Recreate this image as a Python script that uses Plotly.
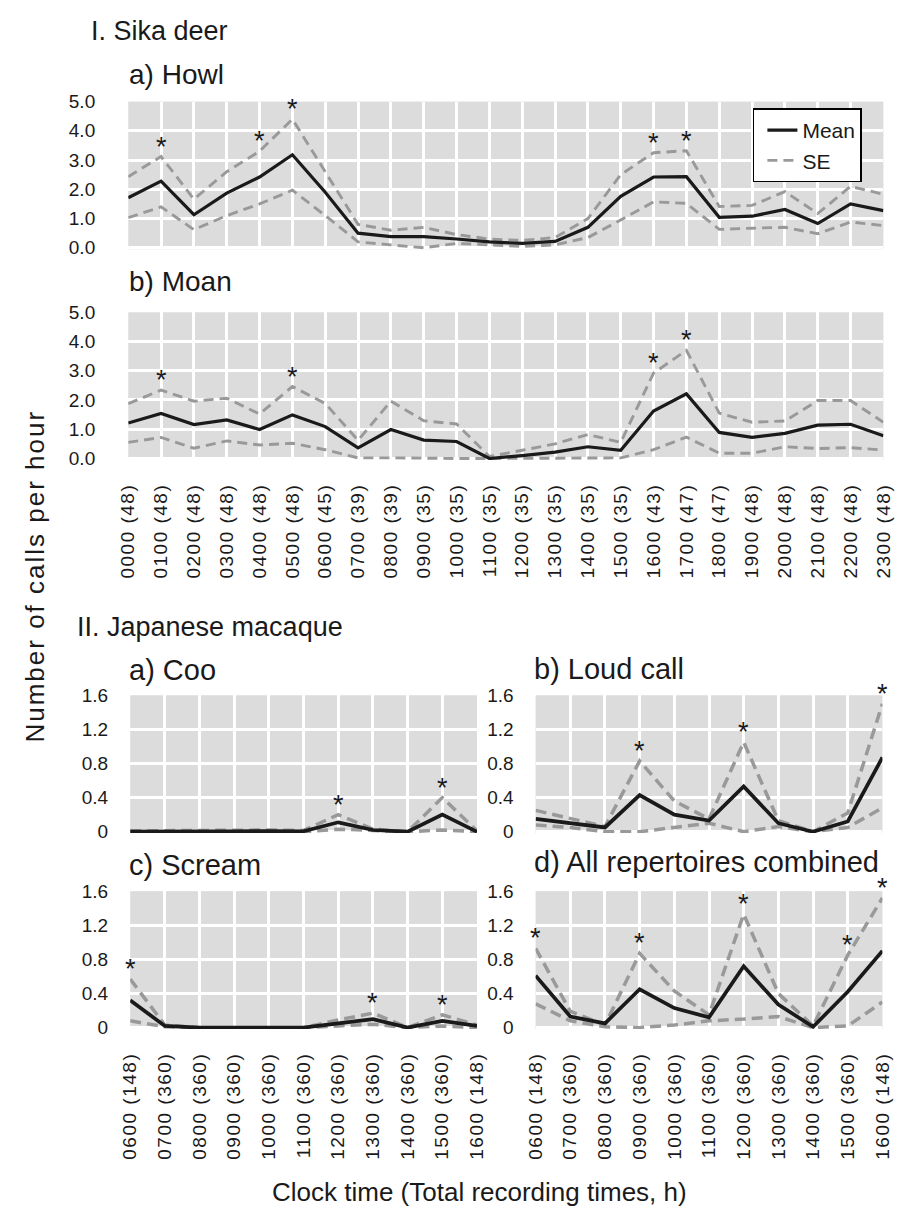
import plotly.graph_objects as go

W, H = 910, 1229

# ---------------- data ----------------
deer_hours = ["0000 (48)", "0100 (48)", "0200 (48)", "0300 (48)", "0400 (48)", "0500 (48)",
              "0600 (45)", "0700 (39)", "0800 (39)", "0900 (35)", "1000 (35)", "1100 (35)",
              "1200 (35)", "1300 (35)", "1400 (35)", "1500 (35)", "1600 (43)", "1700 (47)",
              "1800 (47)", "1900 (48)", "2000 (48)", "2100 (48)", "2200 (48)", "2300 (48)"]

howl_mean = [1.71, 2.28, 1.13, 1.87, 2.42, 3.18, 1.9, 0.5, 0.38, 0.38, 0.3, 0.2,
             0.15, 0.22, 0.7, 1.76, 2.42, 2.43, 1.04, 1.08, 1.31, 0.83, 1.5, 1.27]
howl_upper = [2.43, 3.12, 1.66, 2.6, 3.3, 4.4, 2.6, 0.8, 0.6, 0.7, 0.45, 0.3,
              0.25, 0.35, 1.0, 2.5, 3.25, 3.32, 1.41, 1.45, 1.92, 1.17, 2.1, 1.83]
howl_lower = [1.03, 1.4, 0.62, 1.1, 1.5, 1.97, 1.1, 0.2, 0.1, 0.0, 0.15, 0.1,
              0.05, 0.1, 0.35, 0.95, 1.57, 1.52, 0.63, 0.67, 0.7, 0.48, 0.88, 0.76]
howl_star = [1, 4, 5, 16, 17]

moan_mean = [1.21, 1.54, 1.16, 1.32, 0.99, 1.49, 1.09, 0.36, 0.99, 0.63, 0.58, 0.0,
             0.1, 0.22, 0.4, 0.28, 1.62, 2.21, 0.89, 0.72, 0.86, 1.14, 1.17, 0.78]
moan_upper = [1.87, 2.34, 1.96, 2.06, 1.52, 2.46, 1.88, 0.62, 1.96, 1.29, 1.18, 0.07,
              0.28, 0.5, 0.82, 0.55, 2.92, 3.7, 1.55, 1.24, 1.28, 1.98, 1.98, 1.24]
moan_lower = [0.55, 0.72, 0.35, 0.6, 0.46, 0.52, 0.3, 0.02, 0.02, 0.0, 0.0, 0.0,
              0.0, 0.0, 0.0, 0.02, 0.3, 0.73, 0.18, 0.18, 0.4, 0.34, 0.37, 0.29]
moan_star = [1, 5, 16, 17]

mac_hours = ["0600 (148)", "0700 (360)", "0800 (360)", "0900 (360)", "1000 (360)", "1100 (360)",
             "1200 (360)", "1300 (360)", "1400 (360)", "1500 (360)", "1600 (148)"]

coo_mean = [0.0, 0.005, 0.005, 0.005, 0.008, 0.005, 0.11, 0.02, 0.0, 0.2, 0.0]
coo_upper = [0.01, 0.015, 0.015, 0.015, 0.02, 0.015, 0.2, 0.03, 0.0, 0.4, 0.01]
coo_lower = [0.0, 0.0, 0.0, 0.0, 0.0, 0.0, 0.03, 0.01, 0.0, 0.02, 0.0]
coo_star = [6, 9]

loud_mean = [0.15, 0.1, 0.05, 0.43, 0.2, 0.13, 0.53, 0.1, 0.0, 0.12, 0.87]
loud_upper = [0.25, 0.15, 0.06, 0.83, 0.36, 0.15, 1.05, 0.13, 0.0, 0.22, 1.5]
loud_lower = [0.08, 0.05, 0.0, 0.0, 0.05, 0.1, 0.0, 0.06, 0.0, 0.05, 0.28]
loud_star = [3, 6, 10]

scream_mean = [0.32, 0.02, 0.0, 0.0, 0.0, 0.0, 0.05, 0.1, 0.0, 0.08, 0.02]
scream_upper = [0.57, 0.03, 0.0, 0.0, 0.0, 0.0, 0.09, 0.17, 0.0, 0.15, 0.03]
scream_lower = [0.08, 0.01, 0.0, 0.0, 0.0, 0.0, 0.02, 0.04, 0.0, 0.02, 0.0]
scream_star = [0, 7, 9]

all_mean = [0.61, 0.13, 0.05, 0.45, 0.23, 0.12, 0.72, 0.27, 0.01, 0.42, 0.9]
all_upper = [0.93, 0.19, 0.03, 0.87, 0.43, 0.15, 1.33, 0.4, 0.02, 0.85, 1.52]
all_lower = [0.28, 0.08, 0.01, 0.0, 0.03, 0.08, 0.1, 0.13, 0.0, 0.02, 0.3]
all_star = [0, 3, 6, 9, 10]

# ---------------- styling ----------------
BG = "#dcdcdd"
MEAN_C = "#1a1a1a"
SE_C = "#999999"
FONT = "Liberation Sans, Arial, sans-serif"
TXT = "#1a1a1a"


def xd(a, b):
    return [a / W, b / W]


def yd(top, bottom):
    return [1 - bottom / H, 1 - top / H]


def spaced(t, px):
    return '<span style="letter-spacing:%spx">%s</span>' % (px, t)


panels = [
    # id, x px, y px, cats, mean, upper, lower, stars, ymax, deer, title, title_x, title_y, show x labels
    ("1", (120, 893), (93, 243), deer_hours, howl_mean, howl_upper, howl_lower, howl_star, 5.0, True,
     "a) Howl", 119, 66, False),
    ("2", (120, 893), (307, 457), deer_hours, moan_mean, moan_upper, moan_lower, moan_star, 5.0, True,
     "b) Moan", 119, 276, True),
    ("3", (122, 477), (696, 836), mac_hours, coo_mean, coo_upper, coo_lower, coo_star, 1.6, False,
     "a) Coo", 119, 670, False),
    ("4", (537, 892), (696, 836), mac_hours, loud_mean, loud_upper, loud_lower, loud_star, 1.6, False,
     "b) Loud call", 533, 669, False),
    ("5", (122, 477), (895, 1035), mac_hours, scream_mean, scream_upper, scream_lower, scream_star, 1.6, False,
     "c) Scream", 119, 868, True),
    ("6", (537, 892), (895, 1035), mac_hours, all_mean, all_upper, all_lower, all_star, 1.6, False,
     "d) All repertoires combined", 533, 865, True),
]

fig = go.Figure()
annotations = []
layout_axes = {}

for i, (nm, xr, yr, cats, mean, upper, lower, stars, ymax, deer, title, tx, ty, show_x) in enumerate(panels):
    xa = "x" if nm == "1" else "x" + nm
    ya = "y" if nm == "1" else "y" + nm
    idx = list(range(len(cats)))
    first = (i == 0)
    se_w, mean_w, dash = (2.9, 3.2, "10px,6px") if deer else (3.5, 3.7, "11px,6px")
    fig.add_trace(go.Scatter(x=idx, y=upper, mode="lines", xaxis=xa, yaxis=ya,
                             line=dict(color=SE_C, width=se_w, dash=dash),
                             name="SE", showlegend=False, legendrank=2))
    fig.add_trace(go.Scatter(x=idx, y=lower, mode="lines", xaxis=xa, yaxis=ya,
                             line=dict(color=SE_C, width=se_w, dash=dash),
                             name="SE", showlegend=first, legendrank=2))
    fig.add_trace(go.Scatter(x=idx, y=mean, mode="lines", xaxis=xa, yaxis=ya,
                             line=dict(color=MEAN_C, width=mean_w),
                             name="Mean", showlegend=first, legendrank=1))

    if deer:
        yt = dict(tickvals=[0, 1, 2, 3, 4, 5], ticktext=["0.0", "1.0", "2.0", "3.0", "4.0", "5.0"],
                  ticklabelstandoff=32)
        yrange = [-0.05, ymax]
    else:
        yt = dict(tickvals=[0, 0.4, 0.8, 1.2, 1.6], ticktext=["0", "0.4", "0.8", "1.2", "1.6"],
                  ticklabelstandoff=21)
        yrange = [-0.016, ymax]

    xkey = "xaxis" if nm == "1" else "xaxis" + nm
    ykey = "yaxis" if nm == "1" else "yaxis" + nm
    layout_axes[xkey] = dict(domain=xd(*xr), anchor=ya, range=[0, len(cats) - 1],
                             tickvals=idx,
                             ticktext=[spaced(c, 1.5) for c in cats] if show_x else [""] * len(cats),
                             tickangle=-90, showgrid=True, gridcolor="white", gridwidth=2.5,
                             zeroline=False, showline=False, ticks="",
                             tickfont=dict(family=FONT, size=19, color=TXT),
                             ticklabelstandoff=19, fixedrange=True)
    layout_axes[ykey] = dict(domain=yd(*yr), anchor=xa, range=yrange,
                             showgrid=True, gridcolor="white", gridwidth=2.5,
                             tickfont=dict(family=FONT, size=19, color=TXT),
                             zeroline=False, showline=False, ticks="", fixedrange=True, **yt)

    # panel title
    annotations.append(dict(text=title, x=tx / W, y=1 - ty / H, xref="paper", yref="paper",
                            xanchor="left", yanchor="middle", showarrow=False,
                            font=dict(family=FONT, size=28 if deer else 29, color=TXT)))
    # asterisks
    for s in stars:
        annotations.append(dict(text="*", x=s, y=upper[s], xref=xa, yref=ya,
                                xanchor="center", yanchor="middle", yshift=10, showarrow=False,
                                font=dict(family=FONT, size=27, color=TXT)))

# section titles
annotations.append(dict(text="I. Sika deer", x=80 / W, y=1 - 21 / H, xref="paper", yref="paper",
                        xanchor="left", yanchor="middle", showarrow=False,
                        font=dict(family=FONT, size=27, color=TXT)))
annotations.append(dict(text="II. Japanese macaque", x=65 / W, y=1 - 627 / H, xref="paper", yref="paper",
                        xanchor="left", yanchor="middle", showarrow=False,
                        font=dict(family=FONT, size=27, color=TXT)))
# axis titles
annotations.append(dict(text=spaced("Number of calls per hour", 2), x=25 / W, y=1 - 575 / H,
                        xref="paper", yref="paper",
                        xanchor="center", yanchor="middle", textangle=-90, showarrow=False,
                        font=dict(family=FONT, size=26, color=TXT)))
annotations.append(dict(text="Clock time (Total recording times, h)", x=480 / W, y=1 - 1201 / H,
                        xref="paper", yref="paper", xanchor="center", yanchor="middle", showarrow=False,
                        font=dict(family=FONT, size=26, color=TXT)))

fig.update_layout(
    width=W, height=H, margin=dict(l=0, r=0, t=0, b=0),
    paper_bgcolor="white", plot_bgcolor=BG,
    annotations=annotations,
    showlegend=True,
    legend=dict(x=871 / W, y=1 - 100 / H, xanchor="right", yanchor="top",
                bgcolor="white", bordercolor="black", borderwidth=1.5,
                font=dict(family=FONT, size=21, color=TXT), indentation=8,
                itemwidth=30, tracegroupgap=0, traceorder="normal"),
    **layout_axes,
)

fig.write_html("out.html", config={"displayModeBar": False},
               post_script="document.body.style.margin='0px';")
